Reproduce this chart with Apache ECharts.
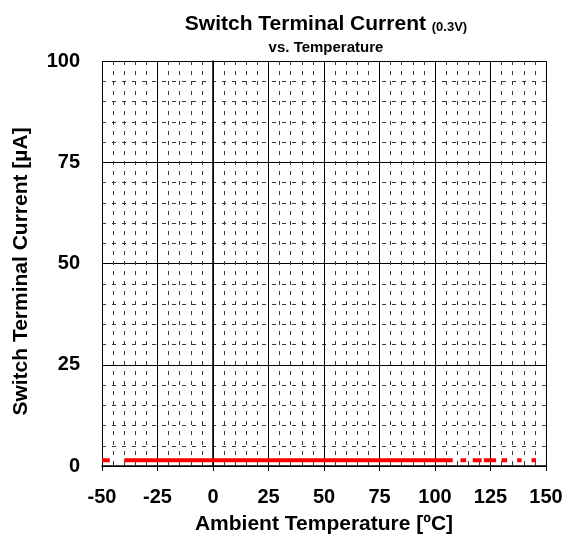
<!DOCTYPE html>
<html>
<head>
<meta charset="utf-8">
<script src="https://cdn.jsdelivr.net/npm/echarts@6/dist/echarts.min.js"></script>
<style>
	html, body { margin: 0; padding: 0; background: #fff; }
	#chart { width: 573px; height: 540px; }
</style>
</head>
<body>
<div id="chart"></div>
<script>
// temperature points of the red trace, null current = gap in the line
var tempData = [-50, -46.5, -43, -40, 108, 110, 111.5, 114, 115, 117, 121, 121.5, 122, 127.5, 129, 130, 132.5, 135, 137, 139, 141, 143.5, 145.5];
var currentData = [1.4, 1.4, null, 1.4, 1.4, null, 1.4, 1.4, null, 1.4, 1.4, null, 1.4, 1.4, null, 1.4, 1.4, null, 1.4, 1.4, null, 1.4, 1.4];
var xTicks = [-50, 150, 25];
var yTicks = [0, 100, 25];

var chart = echarts.init(document.getElementById('chart'));
var fontName = 'Liberation Sans, Arial, sans-serif';

var seriesData = [];
for (var i = 0; i < tempData.length; i++) {
	seriesData.push([tempData[i], currentData[i] == null ? '-' : currentData[i]]);
}

var option = {
	animation: false,
	backgroundColor: '#fff',
	title: [{
		text: '{a|Switch Terminal Current }{b|(0.3V)}',
		left: 321,
		top: 9,
		textAlign: 'center',
		textStyle: {
			rich: {
				a: { fontFamily: fontName, fontWeight: 'bold', fontSize: 21, color: '#000' },
				b: { fontFamily: fontName, fontWeight: 'bold', fontSize: 13, color: '#000', padding: [5, 0, 0, 0] }
			}
		}
	}, {
		text: 'vs. Temperature',
		left: 321,
		top: 35,
		textAlign: 'center',
		textStyle: { fontFamily: fontName, fontWeight: 'bold', fontSize: 15, color: '#000' }
	}],
	grid: {
		left: 102,
		right: 27,
		top: 61,
		bottom: 73
	},
	xAxis: {
		type: 'value',
		min: xTicks[0],
		max: xTicks[1],
		interval: xTicks[2],
		name: 'Ambient Temperature [ºC]',
		nameLocation: 'middle',
		nameGap: 48,
		nameTextStyle: { fontFamily: fontName, fontWeight: 'bold', fontSize: 21, color: '#000' },
		axisLine: { lineStyle: { color: '#000', width: 1.5 } },
		axisTick: { show: true, length: 5, lineStyle: { color: '#000' } },
		axisLabel: { fontFamily: fontName, fontWeight: 'bold', fontSize: 20, color: '#000', margin: 21 },
		splitLine: { show: true, lineStyle: { color: '#000', width: 1 } },
		minorTick: { show: false, splitNumber: 5 },
		minorSplitLine: { show: true, lineStyle: { color: '#3a3a3a', width: 1, type: [4, 6] } }
	},
	yAxis: {
		type: 'value',
		min: yTicks[0],
		max: yTicks[1],
		interval: yTicks[2],
		name: 'Switch Terminal Current [µA]',
		nameLocation: 'middle',
		nameGap: 70,
		nameTextStyle: { fontFamily: fontName, fontWeight: 'bold', fontSize: 21, color: '#000', padding: [0, 16, 0, 0] },
		axisLine: { show: true, lineStyle: { color: '#000', width: 1.5 } },
		axisTick: { show: true, length: 5, lineStyle: { color: '#000' } },
		axisLabel: { fontFamily: fontName, fontWeight: 'bold', fontSize: 20, color: '#000', margin: 22 },
		splitLine: { show: true, lineStyle: { color: '#000', width: 1 } },
		minorTick: { show: false, splitNumber: 5 },
		minorSplitLine: { show: true, lineStyle: { color: '#3a3a3a', width: 1, type: [4, 6] } }
	},
	series: [{
		type: 'line',
		data: seriesData,
		showSymbol: false,
		connectNulls: false,
		lineStyle: { color: '#ff0000', width: 4 }
	}]
};
chart.setOption(option);
</script>
</body>
</html>
